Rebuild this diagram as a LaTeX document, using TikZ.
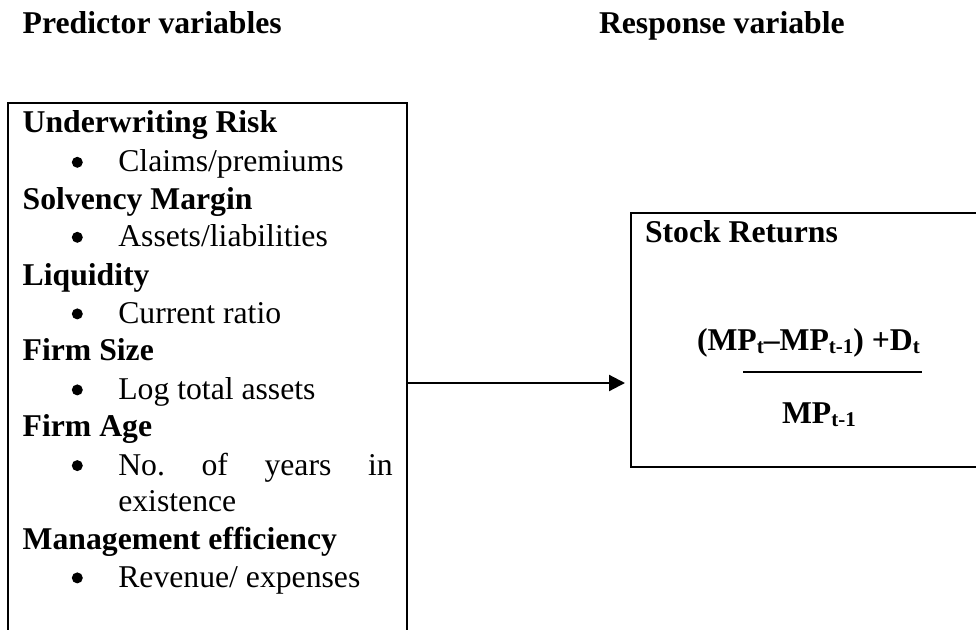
\documentclass[tikz,border=0pt]{standalone}
\usepackage{fontspec}
\setmainfont{Liberation Serif}
\usetikzlibrary{arrows.meta}
\newcommand\mysubsc[1]{\raisebox{-3.5pt}{\fontsize{21}{21}\selectfont #1}}
\frenchspacing
\begin{document}
\begin{tikzpicture}[x=1pt,y=-1pt,
  basefont/.style={inner sep=0pt, outer sep=0pt, font=\fontsize{31.7}{37.9}\selectfont},
  txt/.style={basefont, anchor=base west},
  hdr/.style={basefont, anchor=base west, font=\fontsize{31.7}{37.9}\selectfont\bfseries},
  bul/.style={circle, fill=black, inner sep=0pt, minimum size=11pt},
  frame/.style={draw=black, line width=2.2pt, rectangle, inner sep=0pt, outer sep=0pt, anchor=north west},
  conn/.style={draw=black, line width=2.2pt, -{Triangle[length=16pt,width=16pt]}, shorten >=6pt},
  fracline/.style={draw=black, line width=2pt}]
\useasboundingbox (0,0) rectangle (976,629);
\clip (0,0) rectangle (976,629);
% headers
\node[hdr] (hpred) at (22.7,33.5) {Predictor variables};
\node[hdr] (hresp) at (599,33.5) {Response variable};
% boxes
\node[frame, minimum width=399pt, minimum height=560pt] (lbox) at (8,103) {};
\node[frame, minimum width=400pt, minimum height=254pt] (rbox) at (631,212.7) {};
% left box content
\node[hdr] (h1) at (22.7,132.7) {Underwriting Risk};
\node[bul] (b1) at (77.3,162.3) {};
\node[txt] (t1) at (118.3,171.7) {Claims/premiums};
\node[hdr] (h2) at (22.7,209.2) {Solvency Margin};
\node[bul] (b2) at (77.3,237.3) {};
\node[txt] (t2) at (118.3,246.7) {Assets/liabilities};
\node[hdr] (h3) at (22.7,285) {Liquidity};
\node[bul] (b3) at (77.3,313.9) {};
\node[txt] (t3) at (118.3,323.3) {Current ratio};
\node[hdr] (h4) at (22.7,360.5) {Firm Size};
\node[bul] (b4) at (77.3,389.9) {};
\node[txt] (t4) at (118.3,399.3) {Log total assets};
\node[hdr] (h5) at (22.7,436.7) {Firm Age};
\node[bul] (b5) at (77.3,465.6) {};
\node[txt] (t5) at (118.3,475) {\makebox[274.4pt][s]{No. of years in}};
\node[txt] (t5b) at (118.3,511.7) {existence};
\node[hdr] (h6) at (22.7,549.3) {Management efficiency};
\node[bul] (b6) at (77.3,577.9) {};
\node[txt] (t6) at (118.3,587.3) {Revenue/ expenses};
% right box content
\node[hdr] (sr) at (645,242.7) {Stock Returns};
\node[hdr] (num) at (697,350) {(MP\mysubsc{t}–MP\mysubsc{t-1}) +D\mysubsc{t}};
\coordinate (f1) at (743,371.7);
\coordinate (f2) at (922,371.7);
\draw[fracline] (f1) -- (f2);
\node[hdr] (den) at (782,423) {MP\mysubsc{t-1}};
% connector
\coordinate (ay) at (0,383);
\draw[conn] (lbox.east |- ay) -- (rbox.west |- ay);
\end{tikzpicture}
\end{document}
